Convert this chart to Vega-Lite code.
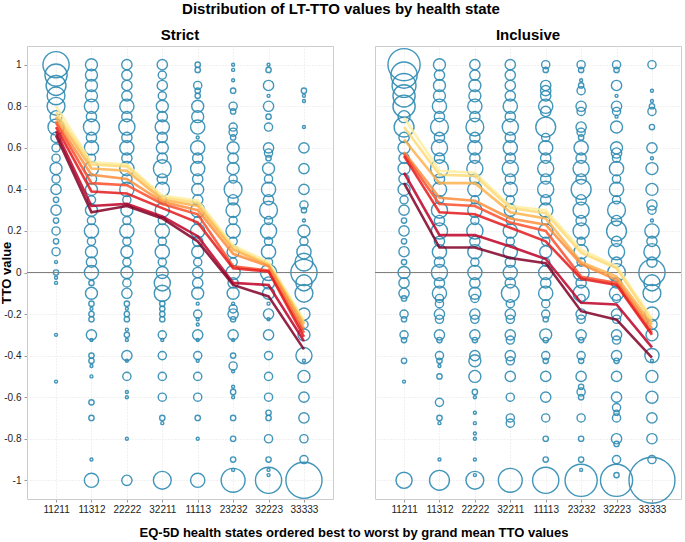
{
"$schema": "https://vega.github.io/schema/vega-lite/v6.json",
"padding": {"left": 0, "top": 2, "right": 0, "bottom": 0},
"bounds": "flush",
"title": {"text": "Distribution of LT-TTO values by health state", "fontSize": 15, "fontWeight": "bold", "font": "Liberation Sans", "anchor": "middle", "offset": 11, "color": "#000"},
"data": {"values": [
{"p":"Strict","s":"11211","v":1,"n":36},{"p":"Strict","s":"11211","v":0.95,"n":26},{"p":"Strict","s":"11211","v":0.9,"n":21},{"p":"Strict","s":"11211","v":0.85,"n":17},{"p":"Strict","s":"11211","v":0.8,"n":17},{"p":"Strict","s":"11211","v":0.75,"n":8},{"p":"Strict","s":"11211","v":0.7,"n":14},{"p":"Strict","s":"11211","v":0.65,"n":6},{"p":"Strict","s":"11211","v":0.6,"n":4},{"p":"Strict","s":"11211","v":0.55,"n":4},{"p":"Strict","s":"11211","v":0.5,"n":8},{"p":"Strict","s":"11211","v":0.45,"n":4},{"p":"Strict","s":"11211","v":0.4,"n":6},{"p":"Strict","s":"11211","v":0.35,"n":2},{"p":"Strict","s":"11211","v":0.3,"n":6},{"p":"Strict","s":"11211","v":0.25,"n":2},{"p":"Strict","s":"11211","v":0.2,"n":4},{"p":"Strict","s":"11211","v":0.15,"n":2},{"p":"Strict","s":"11211","v":0.1,"n":4},{"p":"Strict","s":"11211","v":0.05,"n":1},{"p":"Strict","s":"11211","v":0,"n":2},{"p":"Strict","s":"11211","v":-0.025,"n":1},{"p":"Strict","s":"11211","v":-0.05,"n":1},{"p":"Strict","s":"11211","v":-0.3,"n":1},{"p":"Strict","s":"11211","v":-0.525,"n":1},
{"p":"Strict","s":"11312","v":1,"n":8},{"p":"Strict","s":"11312","v":0.95,"n":8},{"p":"Strict","s":"11312","v":0.9,"n":8},{"p":"Strict","s":"11312","v":0.85,"n":8},{"p":"Strict","s":"11312","v":0.8,"n":11},{"p":"Strict","s":"11312","v":0.75,"n":6},{"p":"Strict","s":"11312","v":0.7,"n":14},{"p":"Strict","s":"11312","v":0.65,"n":6},{"p":"Strict","s":"11312","v":0.6,"n":11},{"p":"Strict","s":"11312","v":0.55,"n":4},{"p":"Strict","s":"11312","v":0.5,"n":11},{"p":"Strict","s":"11312","v":0.45,"n":6},{"p":"Strict","s":"11312","v":0.4,"n":8},{"p":"Strict","s":"11312","v":0.35,"n":4},{"p":"Strict","s":"11312","v":0.3,"n":8},{"p":"Strict","s":"11312","v":0.25,"n":4},{"p":"Strict","s":"11312","v":0.2,"n":11},{"p":"Strict","s":"11312","v":0.15,"n":4},{"p":"Strict","s":"11312","v":0.1,"n":8},{"p":"Strict","s":"11312","v":0.05,"n":6},{"p":"Strict","s":"11312","v":0,"n":11},{"p":"Strict","s":"11312","v":-0.05,"n":2},{"p":"Strict","s":"11312","v":-0.1,"n":8},{"p":"Strict","s":"11312","v":-0.15,"n":2},{"p":"Strict","s":"11312","v":-0.175,"n":1},{"p":"Strict","s":"11312","v":-0.2,"n":2},{"p":"Strict","s":"11312","v":-0.225,"n":2},{"p":"Strict","s":"11312","v":-0.3,"n":6},{"p":"Strict","s":"11312","v":-0.325,"n":1},{"p":"Strict","s":"11312","v":-0.4,"n":2},{"p":"Strict","s":"11312","v":-0.425,"n":2},{"p":"Strict","s":"11312","v":-0.45,"n":1},{"p":"Strict","s":"11312","v":-0.5,"n":1},{"p":"Strict","s":"11312","v":-0.625,"n":2},{"p":"Strict","s":"11312","v":-0.7,"n":2},{"p":"Strict","s":"11312","v":-0.9,"n":1},{"p":"Strict","s":"11312","v":-1,"n":11},
{"p":"Strict","s":"22222","v":1,"n":6},{"p":"Strict","s":"22222","v":0.95,"n":6},{"p":"Strict","s":"22222","v":0.9,"n":6},{"p":"Strict","s":"22222","v":0.85,"n":6},{"p":"Strict","s":"22222","v":0.8,"n":11},{"p":"Strict","s":"22222","v":0.75,"n":6},{"p":"Strict","s":"22222","v":0.7,"n":14},{"p":"Strict","s":"22222","v":0.65,"n":6},{"p":"Strict","s":"22222","v":0.6,"n":11},{"p":"Strict","s":"22222","v":0.55,"n":6},{"p":"Strict","s":"22222","v":0.5,"n":11},{"p":"Strict","s":"22222","v":0.45,"n":6},{"p":"Strict","s":"22222","v":0.4,"n":11},{"p":"Strict","s":"22222","v":0.35,"n":4},{"p":"Strict","s":"22222","v":0.3,"n":8},{"p":"Strict","s":"22222","v":0.25,"n":4},{"p":"Strict","s":"22222","v":0.2,"n":11},{"p":"Strict","s":"22222","v":0.15,"n":4},{"p":"Strict","s":"22222","v":0.1,"n":8},{"p":"Strict","s":"22222","v":0.05,"n":4},{"p":"Strict","s":"22222","v":0,"n":8},{"p":"Strict","s":"22222","v":-0.05,"n":4},{"p":"Strict","s":"22222","v":-0.1,"n":6},{"p":"Strict","s":"22222","v":-0.15,"n":2},{"p":"Strict","s":"22222","v":-0.175,"n":1},{"p":"Strict","s":"22222","v":-0.2,"n":2},{"p":"Strict","s":"22222","v":-0.225,"n":2},{"p":"Strict","s":"22222","v":-0.275,"n":1},{"p":"Strict","s":"22222","v":-0.3,"n":2},{"p":"Strict","s":"22222","v":-0.325,"n":1},{"p":"Strict","s":"22222","v":-0.4,"n":6},{"p":"Strict","s":"22222","v":-0.425,"n":1},{"p":"Strict","s":"22222","v":-0.5,"n":4},{"p":"Strict","s":"22222","v":-0.575,"n":1},{"p":"Strict","s":"22222","v":-0.6,"n":1},{"p":"Strict","s":"22222","v":-0.8,"n":1},{"p":"Strict","s":"22222","v":-1,"n":6},
{"p":"Strict","s":"32211","v":1,"n":6},{"p":"Strict","s":"32211","v":0.95,"n":4},{"p":"Strict","s":"32211","v":0.9,"n":6},{"p":"Strict","s":"32211","v":0.85,"n":4},{"p":"Strict","s":"32211","v":0.8,"n":8},{"p":"Strict","s":"32211","v":0.75,"n":6},{"p":"Strict","s":"32211","v":0.7,"n":11},{"p":"Strict","s":"32211","v":0.65,"n":6},{"p":"Strict","s":"32211","v":0.6,"n":8},{"p":"Strict","s":"32211","v":0.55,"n":6},{"p":"Strict","s":"32211","v":0.5,"n":17},{"p":"Strict","s":"32211","v":0.45,"n":6},{"p":"Strict","s":"32211","v":0.4,"n":11},{"p":"Strict","s":"32211","v":0.35,"n":4},{"p":"Strict","s":"32211","v":0.3,"n":11},{"p":"Strict","s":"32211","v":0.25,"n":4},{"p":"Strict","s":"32211","v":0.2,"n":11},{"p":"Strict","s":"32211","v":0.15,"n":4},{"p":"Strict","s":"32211","v":0.1,"n":11},{"p":"Strict","s":"32211","v":0.05,"n":4},{"p":"Strict","s":"32211","v":0,"n":8},{"p":"Strict","s":"32211","v":-0.05,"n":14},{"p":"Strict","s":"32211","v":-0.1,"n":14},{"p":"Strict","s":"32211","v":-0.15,"n":2},{"p":"Strict","s":"32211","v":-0.175,"n":2},{"p":"Strict","s":"32211","v":-0.2,"n":2},{"p":"Strict","s":"32211","v":-0.225,"n":2},{"p":"Strict","s":"32211","v":-0.3,"n":4},{"p":"Strict","s":"32211","v":-0.325,"n":1},{"p":"Strict","s":"32211","v":-0.4,"n":4},{"p":"Strict","s":"32211","v":-0.5,"n":4},{"p":"Strict","s":"32211","v":-0.6,"n":4},{"p":"Strict","s":"32211","v":-0.7,"n":2},{"p":"Strict","s":"32211","v":-0.725,"n":1},{"p":"Strict","s":"32211","v":-1,"n":17},
{"p":"Strict","s":"11113","v":1,"n":2},{"p":"Strict","s":"11113","v":0.975,"n":2},{"p":"Strict","s":"11113","v":0.9,"n":4},{"p":"Strict","s":"11113","v":0.875,"n":2},{"p":"Strict","s":"11113","v":0.85,"n":2},{"p":"Strict","s":"11113","v":0.8,"n":8},{"p":"Strict","s":"11113","v":0.75,"n":8},{"p":"Strict","s":"11113","v":0.7,"n":11},{"p":"Strict","s":"11113","v":0.65,"n":1},{"p":"Strict","s":"11113","v":0.6,"n":11},{"p":"Strict","s":"11113","v":0.55,"n":6},{"p":"Strict","s":"11113","v":0.5,"n":11},{"p":"Strict","s":"11113","v":0.45,"n":6},{"p":"Strict","s":"11113","v":0.4,"n":8},{"p":"Strict","s":"11113","v":0.35,"n":6},{"p":"Strict","s":"11113","v":0.3,"n":11},{"p":"Strict","s":"11113","v":0.25,"n":4},{"p":"Strict","s":"11113","v":0.2,"n":11},{"p":"Strict","s":"11113","v":0.15,"n":6},{"p":"Strict","s":"11113","v":0.1,"n":8},{"p":"Strict","s":"11113","v":0.05,"n":4},{"p":"Strict","s":"11113","v":0,"n":6},{"p":"Strict","s":"11113","v":-0.05,"n":6},{"p":"Strict","s":"11113","v":-0.1,"n":8},{"p":"Strict","s":"11113","v":-0.15,"n":1},{"p":"Strict","s":"11113","v":-0.2,"n":4},{"p":"Strict","s":"11113","v":-0.225,"n":1},{"p":"Strict","s":"11113","v":-0.25,"n":1},{"p":"Strict","s":"11113","v":-0.3,"n":6},{"p":"Strict","s":"11113","v":-0.325,"n":1},{"p":"Strict","s":"11113","v":-0.4,"n":4},{"p":"Strict","s":"11113","v":-0.425,"n":1},{"p":"Strict","s":"11113","v":-0.5,"n":4},{"p":"Strict","s":"11113","v":-0.6,"n":4},{"p":"Strict","s":"11113","v":-0.7,"n":2},{"p":"Strict","s":"11113","v":-0.8,"n":1},{"p":"Strict","s":"11113","v":-1,"n":11},
{"p":"Strict","s":"23232","v":1,"n":1},{"p":"Strict","s":"23232","v":0.975,"n":1},{"p":"Strict","s":"23232","v":0.925,"n":1},{"p":"Strict","s":"23232","v":0.875,"n":2},{"p":"Strict","s":"23232","v":0.8,"n":4},{"p":"Strict","s":"23232","v":0.775,"n":2},{"p":"Strict","s":"23232","v":0.7,"n":4},{"p":"Strict","s":"23232","v":0.675,"n":4},{"p":"Strict","s":"23232","v":0.65,"n":2},{"p":"Strict","s":"23232","v":0.6,"n":8},{"p":"Strict","s":"23232","v":0.55,"n":6},{"p":"Strict","s":"23232","v":0.5,"n":8},{"p":"Strict","s":"23232","v":0.45,"n":4},{"p":"Strict","s":"23232","v":0.4,"n":17},{"p":"Strict","s":"23232","v":0.35,"n":6},{"p":"Strict","s":"23232","v":0.3,"n":11},{"p":"Strict","s":"23232","v":0.25,"n":4},{"p":"Strict","s":"23232","v":0.2,"n":11},{"p":"Strict","s":"23232","v":0.15,"n":4},{"p":"Strict","s":"23232","v":0.1,"n":8},{"p":"Strict","s":"23232","v":0.05,"n":4},{"p":"Strict","s":"23232","v":0,"n":11},{"p":"Strict","s":"23232","v":-0.05,"n":6},{"p":"Strict","s":"23232","v":-0.1,"n":8},{"p":"Strict","s":"23232","v":-0.15,"n":1},{"p":"Strict","s":"23232","v":-0.175,"n":4},{"p":"Strict","s":"23232","v":-0.2,"n":6},{"p":"Strict","s":"23232","v":-0.225,"n":2},{"p":"Strict","s":"23232","v":-0.3,"n":6},{"p":"Strict","s":"23232","v":-0.325,"n":1},{"p":"Strict","s":"23232","v":-0.4,"n":2},{"p":"Strict","s":"23232","v":-0.45,"n":4},{"p":"Strict","s":"23232","v":-0.475,"n":1},{"p":"Strict","s":"23232","v":-0.55,"n":1},{"p":"Strict","s":"23232","v":-0.575,"n":2},{"p":"Strict","s":"23232","v":-0.6,"n":1},{"p":"Strict","s":"23232","v":-0.7,"n":2},{"p":"Strict","s":"23232","v":-0.8,"n":2},{"p":"Strict","s":"23232","v":-0.9,"n":2},{"p":"Strict","s":"23232","v":-0.95,"n":1},{"p":"Strict","s":"23232","v":-1,"n":30},
{"p":"Strict","s":"32223","v":1,"n":1},{"p":"Strict","s":"32223","v":0.975,"n":2},{"p":"Strict","s":"32223","v":0.9,"n":6},{"p":"Strict","s":"32223","v":0.85,"n":1},{"p":"Strict","s":"32223","v":0.8,"n":6},{"p":"Strict","s":"32223","v":0.75,"n":2},{"p":"Strict","s":"32223","v":0.7,"n":4},{"p":"Strict","s":"32223","v":0.6,"n":6},{"p":"Strict","s":"32223","v":0.575,"n":4},{"p":"Strict","s":"32223","v":0.55,"n":2},{"p":"Strict","s":"32223","v":0.5,"n":8},{"p":"Strict","s":"32223","v":0.45,"n":4},{"p":"Strict","s":"32223","v":0.4,"n":11},{"p":"Strict","s":"32223","v":0.35,"n":6},{"p":"Strict","s":"32223","v":0.3,"n":17},{"p":"Strict","s":"32223","v":0.25,"n":4},{"p":"Strict","s":"32223","v":0.2,"n":14},{"p":"Strict","s":"32223","v":0.15,"n":4},{"p":"Strict","s":"32223","v":0.1,"n":11},{"p":"Strict","s":"32223","v":0.05,"n":4},{"p":"Strict","s":"32223","v":0,"n":14},{"p":"Strict","s":"32223","v":-0.05,"n":8},{"p":"Strict","s":"32223","v":-0.1,"n":8},{"p":"Strict","s":"32223","v":-0.15,"n":1},{"p":"Strict","s":"32223","v":-0.2,"n":6},{"p":"Strict","s":"32223","v":-0.225,"n":1},{"p":"Strict","s":"32223","v":-0.3,"n":6},{"p":"Strict","s":"32223","v":-0.4,"n":4},{"p":"Strict","s":"32223","v":-0.5,"n":4},{"p":"Strict","s":"32223","v":-0.6,"n":4},{"p":"Strict","s":"32223","v":-0.675,"n":2},{"p":"Strict","s":"32223","v":-0.7,"n":2},{"p":"Strict","s":"32223","v":-0.8,"n":4},{"p":"Strict","s":"32223","v":-0.9,"n":2},{"p":"Strict","s":"32223","v":-0.95,"n":1},{"p":"Strict","s":"32223","v":-0.975,"n":1},{"p":"Strict","s":"32223","v":-1,"n":36},
{"p":"Strict","s":"33333","v":0.875,"n":2},{"p":"Strict","s":"33333","v":0.85,"n":1},{"p":"Strict","s":"33333","v":0.825,"n":1},{"p":"Strict","s":"33333","v":0.7,"n":1},{"p":"Strict","s":"33333","v":0.6,"n":6},{"p":"Strict","s":"33333","v":0.5,"n":6},{"p":"Strict","s":"33333","v":0.4,"n":6},{"p":"Strict","s":"33333","v":0.325,"n":4},{"p":"Strict","s":"33333","v":0.3,"n":2},{"p":"Strict","s":"33333","v":0.25,"n":1},{"p":"Strict","s":"33333","v":0.2,"n":8},{"p":"Strict","s":"33333","v":0.15,"n":4},{"p":"Strict","s":"33333","v":0.1,"n":11},{"p":"Strict","s":"33333","v":0.05,"n":17},{"p":"Strict","s":"33333","v":0,"n":36},{"p":"Strict","s":"33333","v":-0.05,"n":14},{"p":"Strict","s":"33333","v":-0.1,"n":17},{"p":"Strict","s":"33333","v":-0.2,"n":8},{"p":"Strict","s":"33333","v":-0.25,"n":4},{"p":"Strict","s":"33333","v":-0.3,"n":8},{"p":"Strict","s":"33333","v":-0.4,"n":14},{"p":"Strict","s":"33333","v":-0.425,"n":1},{"p":"Strict","s":"33333","v":-0.5,"n":8},{"p":"Strict","s":"33333","v":-0.6,"n":6},{"p":"Strict","s":"33333","v":-0.7,"n":6},{"p":"Strict","s":"33333","v":-0.8,"n":4},{"p":"Strict","s":"33333","v":-0.9,"n":4},{"p":"Strict","s":"33333","v":-1,"n":68},
{"p":"Inclusive","s":"11211","v":1,"n":54},{"p":"Inclusive","s":"11211","v":0.95,"n":36},{"p":"Inclusive","s":"11211","v":0.9,"n":30},{"p":"Inclusive","s":"11211","v":0.85,"n":26},{"p":"Inclusive","s":"11211","v":0.8,"n":26},{"p":"Inclusive","s":"11211","v":0.75,"n":8},{"p":"Inclusive","s":"11211","v":0.7,"n":21},{"p":"Inclusive","s":"11211","v":0.65,"n":6},{"p":"Inclusive","s":"11211","v":0.6,"n":8},{"p":"Inclusive","s":"11211","v":0.55,"n":6},{"p":"Inclusive","s":"11211","v":0.5,"n":8},{"p":"Inclusive","s":"11211","v":0.45,"n":6},{"p":"Inclusive","s":"11211","v":0.4,"n":8},{"p":"Inclusive","s":"11211","v":0.35,"n":4},{"p":"Inclusive","s":"11211","v":0.3,"n":6},{"p":"Inclusive","s":"11211","v":0.25,"n":2},{"p":"Inclusive","s":"11211","v":0.2,"n":6},{"p":"Inclusive","s":"11211","v":0.15,"n":2},{"p":"Inclusive","s":"11211","v":0.1,"n":6},{"p":"Inclusive","s":"11211","v":0.05,"n":2},{"p":"Inclusive","s":"11211","v":0,"n":8},{"p":"Inclusive","s":"11211","v":-0.05,"n":6},{"p":"Inclusive","s":"11211","v":-0.1,"n":6},{"p":"Inclusive","s":"11211","v":-0.125,"n":2},{"p":"Inclusive","s":"11211","v":-0.2,"n":4},{"p":"Inclusive","s":"11211","v":-0.225,"n":2},{"p":"Inclusive","s":"11211","v":-0.3,"n":4},{"p":"Inclusive","s":"11211","v":-0.325,"n":2},{"p":"Inclusive","s":"11211","v":-0.425,"n":2},{"p":"Inclusive","s":"11211","v":-0.525,"n":1},{"p":"Inclusive","s":"11211","v":-1,"n":14},
{"p":"Inclusive","s":"11312","v":1,"n":8},{"p":"Inclusive","s":"11312","v":0.95,"n":6},{"p":"Inclusive","s":"11312","v":0.9,"n":8},{"p":"Inclusive","s":"11312","v":0.85,"n":8},{"p":"Inclusive","s":"11312","v":0.8,"n":11},{"p":"Inclusive","s":"11312","v":0.75,"n":6},{"p":"Inclusive","s":"11312","v":0.7,"n":17},{"p":"Inclusive","s":"11312","v":0.65,"n":6},{"p":"Inclusive","s":"11312","v":0.6,"n":14},{"p":"Inclusive","s":"11312","v":0.55,"n":6},{"p":"Inclusive","s":"11312","v":0.5,"n":17},{"p":"Inclusive","s":"11312","v":0.45,"n":6},{"p":"Inclusive","s":"11312","v":0.4,"n":11},{"p":"Inclusive","s":"11312","v":0.35,"n":4},{"p":"Inclusive","s":"11312","v":0.3,"n":14},{"p":"Inclusive","s":"11312","v":0.25,"n":6},{"p":"Inclusive","s":"11312","v":0.2,"n":14},{"p":"Inclusive","s":"11312","v":0.15,"n":6},{"p":"Inclusive","s":"11312","v":0.1,"n":11},{"p":"Inclusive","s":"11312","v":0.05,"n":6},{"p":"Inclusive","s":"11312","v":0,"n":14},{"p":"Inclusive","s":"11312","v":-0.05,"n":6},{"p":"Inclusive","s":"11312","v":-0.1,"n":11},{"p":"Inclusive","s":"11312","v":-0.125,"n":4},{"p":"Inclusive","s":"11312","v":-0.15,"n":4},{"p":"Inclusive","s":"11312","v":-0.2,"n":6},{"p":"Inclusive","s":"11312","v":-0.225,"n":4},{"p":"Inclusive","s":"11312","v":-0.3,"n":6},{"p":"Inclusive","s":"11312","v":-0.325,"n":2},{"p":"Inclusive","s":"11312","v":-0.4,"n":4},{"p":"Inclusive","s":"11312","v":-0.425,"n":2},{"p":"Inclusive","s":"11312","v":-0.45,"n":1},{"p":"Inclusive","s":"11312","v":-0.5,"n":2},{"p":"Inclusive","s":"11312","v":-0.625,"n":4},{"p":"Inclusive","s":"11312","v":-0.7,"n":2},{"p":"Inclusive","s":"11312","v":-0.725,"n":1},{"p":"Inclusive","s":"11312","v":-0.9,"n":1},{"p":"Inclusive","s":"11312","v":-1,"n":21},
{"p":"Inclusive","s":"22222","v":1,"n":6},{"p":"Inclusive","s":"22222","v":0.95,"n":6},{"p":"Inclusive","s":"22222","v":0.9,"n":8},{"p":"Inclusive","s":"22222","v":0.85,"n":8},{"p":"Inclusive","s":"22222","v":0.8,"n":11},{"p":"Inclusive","s":"22222","v":0.75,"n":6},{"p":"Inclusive","s":"22222","v":0.7,"n":17},{"p":"Inclusive","s":"22222","v":0.65,"n":6},{"p":"Inclusive","s":"22222","v":0.6,"n":11},{"p":"Inclusive","s":"22222","v":0.55,"n":6},{"p":"Inclusive","s":"22222","v":0.5,"n":14},{"p":"Inclusive","s":"22222","v":0.45,"n":6},{"p":"Inclusive","s":"22222","v":0.4,"n":11},{"p":"Inclusive","s":"22222","v":0.35,"n":4},{"p":"Inclusive","s":"22222","v":0.3,"n":11},{"p":"Inclusive","s":"22222","v":0.25,"n":4},{"p":"Inclusive","s":"22222","v":0.2,"n":14},{"p":"Inclusive","s":"22222","v":0.15,"n":6},{"p":"Inclusive","s":"22222","v":0.1,"n":11},{"p":"Inclusive","s":"22222","v":0.05,"n":4},{"p":"Inclusive","s":"22222","v":0,"n":11},{"p":"Inclusive","s":"22222","v":-0.05,"n":6},{"p":"Inclusive","s":"22222","v":-0.1,"n":8},{"p":"Inclusive","s":"22222","v":-0.125,"n":4},{"p":"Inclusive","s":"22222","v":-0.2,"n":6},{"p":"Inclusive","s":"22222","v":-0.225,"n":4},{"p":"Inclusive","s":"22222","v":-0.3,"n":6},{"p":"Inclusive","s":"22222","v":-0.325,"n":2},{"p":"Inclusive","s":"22222","v":-0.4,"n":6},{"p":"Inclusive","s":"22222","v":-0.425,"n":8},{"p":"Inclusive","s":"22222","v":-0.5,"n":8},{"p":"Inclusive","s":"22222","v":-0.575,"n":2},{"p":"Inclusive","s":"22222","v":-0.6,"n":1},{"p":"Inclusive","s":"22222","v":-0.675,"n":1},{"p":"Inclusive","s":"22222","v":-0.725,"n":1},{"p":"Inclusive","s":"22222","v":-0.775,"n":1},{"p":"Inclusive","s":"22222","v":-0.8,"n":1},{"p":"Inclusive","s":"22222","v":-0.9,"n":1},{"p":"Inclusive","s":"22222","v":-0.975,"n":1},{"p":"Inclusive","s":"22222","v":-1,"n":17},
{"p":"Inclusive","s":"32211","v":1,"n":6},{"p":"Inclusive","s":"32211","v":0.95,"n":6},{"p":"Inclusive","s":"32211","v":0.9,"n":6},{"p":"Inclusive","s":"32211","v":0.85,"n":6},{"p":"Inclusive","s":"32211","v":0.8,"n":11},{"p":"Inclusive","s":"32211","v":0.75,"n":6},{"p":"Inclusive","s":"32211","v":0.7,"n":14},{"p":"Inclusive","s":"32211","v":0.65,"n":6},{"p":"Inclusive","s":"32211","v":0.6,"n":11},{"p":"Inclusive","s":"32211","v":0.55,"n":6},{"p":"Inclusive","s":"32211","v":0.5,"n":14},{"p":"Inclusive","s":"32211","v":0.45,"n":6},{"p":"Inclusive","s":"32211","v":0.4,"n":11},{"p":"Inclusive","s":"32211","v":0.35,"n":4},{"p":"Inclusive","s":"32211","v":0.3,"n":8},{"p":"Inclusive","s":"32211","v":0.25,"n":4},{"p":"Inclusive","s":"32211","v":0.2,"n":11},{"p":"Inclusive","s":"32211","v":0.15,"n":4},{"p":"Inclusive","s":"32211","v":0.1,"n":11},{"p":"Inclusive","s":"32211","v":0.05,"n":6},{"p":"Inclusive","s":"32211","v":0,"n":11},{"p":"Inclusive","s":"32211","v":-0.05,"n":6},{"p":"Inclusive","s":"32211","v":-0.1,"n":17},{"p":"Inclusive","s":"32211","v":-0.15,"n":4},{"p":"Inclusive","s":"32211","v":-0.2,"n":6},{"p":"Inclusive","s":"32211","v":-0.225,"n":4},{"p":"Inclusive","s":"32211","v":-0.3,"n":6},{"p":"Inclusive","s":"32211","v":-0.325,"n":4},{"p":"Inclusive","s":"32211","v":-0.4,"n":6},{"p":"Inclusive","s":"32211","v":-0.425,"n":4},{"p":"Inclusive","s":"32211","v":-0.5,"n":6},{"p":"Inclusive","s":"32211","v":-0.6,"n":4},{"p":"Inclusive","s":"32211","v":-0.7,"n":4},{"p":"Inclusive","s":"32211","v":-0.725,"n":4},{"p":"Inclusive","s":"32211","v":-1,"n":30},
{"p":"Inclusive","s":"11113","v":1,"n":4},{"p":"Inclusive","s":"11113","v":0.975,"n":2},{"p":"Inclusive","s":"11113","v":0.9,"n":6},{"p":"Inclusive","s":"11113","v":0.875,"n":6},{"p":"Inclusive","s":"11113","v":0.85,"n":6},{"p":"Inclusive","s":"11113","v":0.8,"n":11},{"p":"Inclusive","s":"11113","v":0.775,"n":6},{"p":"Inclusive","s":"11113","v":0.7,"n":21},{"p":"Inclusive","s":"11113","v":0.65,"n":4},{"p":"Inclusive","s":"11113","v":0.6,"n":11},{"p":"Inclusive","s":"11113","v":0.55,"n":6},{"p":"Inclusive","s":"11113","v":0.5,"n":14},{"p":"Inclusive","s":"11113","v":0.45,"n":6},{"p":"Inclusive","s":"11113","v":0.4,"n":14},{"p":"Inclusive","s":"11113","v":0.35,"n":6},{"p":"Inclusive","s":"11113","v":0.3,"n":11},{"p":"Inclusive","s":"11113","v":0.25,"n":4},{"p":"Inclusive","s":"11113","v":0.2,"n":11},{"p":"Inclusive","s":"11113","v":0.15,"n":4},{"p":"Inclusive","s":"11113","v":0.1,"n":8},{"p":"Inclusive","s":"11113","v":0.05,"n":4},{"p":"Inclusive","s":"11113","v":0,"n":11},{"p":"Inclusive","s":"11113","v":-0.05,"n":6},{"p":"Inclusive","s":"11113","v":-0.1,"n":11},{"p":"Inclusive","s":"11113","v":-0.15,"n":4},{"p":"Inclusive","s":"11113","v":-0.2,"n":4},{"p":"Inclusive","s":"11113","v":-0.225,"n":2},{"p":"Inclusive","s":"11113","v":-0.3,"n":8},{"p":"Inclusive","s":"11113","v":-0.325,"n":2},{"p":"Inclusive","s":"11113","v":-0.4,"n":4},{"p":"Inclusive","s":"11113","v":-0.425,"n":2},{"p":"Inclusive","s":"11113","v":-0.5,"n":6},{"p":"Inclusive","s":"11113","v":-0.6,"n":6},{"p":"Inclusive","s":"11113","v":-0.7,"n":4},{"p":"Inclusive","s":"11113","v":-0.8,"n":2},{"p":"Inclusive","s":"11113","v":-0.9,"n":2},{"p":"Inclusive","s":"11113","v":-1,"n":36},
{"p":"Inclusive","s":"23232","v":1,"n":4},{"p":"Inclusive","s":"23232","v":0.975,"n":2},{"p":"Inclusive","s":"23232","v":0.925,"n":1},{"p":"Inclusive","s":"23232","v":0.9,"n":2},{"p":"Inclusive","s":"23232","v":0.875,"n":4},{"p":"Inclusive","s":"23232","v":0.8,"n":6},{"p":"Inclusive","s":"23232","v":0.775,"n":4},{"p":"Inclusive","s":"23232","v":0.7,"n":6},{"p":"Inclusive","s":"23232","v":0.675,"n":4},{"p":"Inclusive","s":"23232","v":0.65,"n":2},{"p":"Inclusive","s":"23232","v":0.6,"n":11},{"p":"Inclusive","s":"23232","v":0.55,"n":6},{"p":"Inclusive","s":"23232","v":0.5,"n":14},{"p":"Inclusive","s":"23232","v":0.45,"n":6},{"p":"Inclusive","s":"23232","v":0.4,"n":21},{"p":"Inclusive","s":"23232","v":0.35,"n":6},{"p":"Inclusive","s":"23232","v":0.3,"n":14},{"p":"Inclusive","s":"23232","v":0.25,"n":6},{"p":"Inclusive","s":"23232","v":0.2,"n":14},{"p":"Inclusive","s":"23232","v":0.15,"n":4},{"p":"Inclusive","s":"23232","v":0.1,"n":11},{"p":"Inclusive","s":"23232","v":0.05,"n":4},{"p":"Inclusive","s":"23232","v":0,"n":14},{"p":"Inclusive","s":"23232","v":-0.05,"n":6},{"p":"Inclusive","s":"23232","v":-0.1,"n":14},{"p":"Inclusive","s":"23232","v":-0.125,"n":4},{"p":"Inclusive","s":"23232","v":-0.2,"n":6},{"p":"Inclusive","s":"23232","v":-0.225,"n":4},{"p":"Inclusive","s":"23232","v":-0.3,"n":6},{"p":"Inclusive","s":"23232","v":-0.325,"n":2},{"p":"Inclusive","s":"23232","v":-0.4,"n":4},{"p":"Inclusive","s":"23232","v":-0.425,"n":2},{"p":"Inclusive","s":"23232","v":-0.5,"n":6},{"p":"Inclusive","s":"23232","v":-0.55,"n":2},{"p":"Inclusive","s":"23232","v":-0.575,"n":4},{"p":"Inclusive","s":"23232","v":-0.6,"n":2},{"p":"Inclusive","s":"23232","v":-0.7,"n":4},{"p":"Inclusive","s":"23232","v":-0.8,"n":2},{"p":"Inclusive","s":"23232","v":-0.9,"n":2},{"p":"Inclusive","s":"23232","v":-0.95,"n":1},{"p":"Inclusive","s":"23232","v":-1,"n":54},
{"p":"Inclusive","s":"32223","v":1,"n":4},{"p":"Inclusive","s":"32223","v":0.975,"n":2},{"p":"Inclusive","s":"32223","v":0.9,"n":6},{"p":"Inclusive","s":"32223","v":0.85,"n":1},{"p":"Inclusive","s":"32223","v":0.8,"n":6},{"p":"Inclusive","s":"32223","v":0.775,"n":4},{"p":"Inclusive","s":"32223","v":0.75,"n":1},{"p":"Inclusive","s":"32223","v":0.7,"n":8},{"p":"Inclusive","s":"32223","v":0.6,"n":8},{"p":"Inclusive","s":"32223","v":0.575,"n":6},{"p":"Inclusive","s":"32223","v":0.55,"n":4},{"p":"Inclusive","s":"32223","v":0.5,"n":11},{"p":"Inclusive","s":"32223","v":0.45,"n":4},{"p":"Inclusive","s":"32223","v":0.4,"n":11},{"p":"Inclusive","s":"32223","v":0.35,"n":4},{"p":"Inclusive","s":"32223","v":0.3,"n":17},{"p":"Inclusive","s":"32223","v":0.25,"n":6},{"p":"Inclusive","s":"32223","v":0.2,"n":21},{"p":"Inclusive","s":"32223","v":0.15,"n":6},{"p":"Inclusive","s":"32223","v":0.1,"n":14},{"p":"Inclusive","s":"32223","v":0.05,"n":6},{"p":"Inclusive","s":"32223","v":0,"n":17},{"p":"Inclusive","s":"32223","v":-0.05,"n":6},{"p":"Inclusive","s":"32223","v":-0.1,"n":11},{"p":"Inclusive","s":"32223","v":-0.125,"n":4},{"p":"Inclusive","s":"32223","v":-0.2,"n":6},{"p":"Inclusive","s":"32223","v":-0.225,"n":4},{"p":"Inclusive","s":"32223","v":-0.3,"n":6},{"p":"Inclusive","s":"32223","v":-0.325,"n":4},{"p":"Inclusive","s":"32223","v":-0.4,"n":6},{"p":"Inclusive","s":"32223","v":-0.425,"n":2},{"p":"Inclusive","s":"32223","v":-0.5,"n":6},{"p":"Inclusive","s":"32223","v":-0.6,"n":6},{"p":"Inclusive","s":"32223","v":-0.65,"n":4},{"p":"Inclusive","s":"32223","v":-0.675,"n":2},{"p":"Inclusive","s":"32223","v":-0.7,"n":4},{"p":"Inclusive","s":"32223","v":-0.8,"n":6},{"p":"Inclusive","s":"32223","v":-0.825,"n":2},{"p":"Inclusive","s":"32223","v":-0.9,"n":4},{"p":"Inclusive","s":"32223","v":-0.975,"n":2},{"p":"Inclusive","s":"32223","v":-1,"n":54},
{"p":"Inclusive","s":"33333","v":1,"n":4},{"p":"Inclusive","s":"33333","v":0.875,"n":1},{"p":"Inclusive","s":"33333","v":0.825,"n":1},{"p":"Inclusive","s":"33333","v":0.8,"n":2},{"p":"Inclusive","s":"33333","v":0.775,"n":4},{"p":"Inclusive","s":"33333","v":0.7,"n":2},{"p":"Inclusive","s":"33333","v":0.6,"n":6},{"p":"Inclusive","s":"33333","v":0.55,"n":1},{"p":"Inclusive","s":"33333","v":0.5,"n":8},{"p":"Inclusive","s":"33333","v":0.4,"n":8},{"p":"Inclusive","s":"33333","v":0.325,"n":6},{"p":"Inclusive","s":"33333","v":0.3,"n":4},{"p":"Inclusive","s":"33333","v":0.25,"n":1},{"p":"Inclusive","s":"33333","v":0.2,"n":11},{"p":"Inclusive","s":"33333","v":0.15,"n":6},{"p":"Inclusive","s":"33333","v":0.1,"n":14},{"p":"Inclusive","s":"33333","v":0.05,"n":6},{"p":"Inclusive","s":"33333","v":0,"n":36},{"p":"Inclusive","s":"33333","v":-0.05,"n":14},{"p":"Inclusive","s":"33333","v":-0.1,"n":17},{"p":"Inclusive","s":"33333","v":-0.2,"n":11},{"p":"Inclusive","s":"33333","v":-0.25,"n":6},{"p":"Inclusive","s":"33333","v":-0.3,"n":8},{"p":"Inclusive","s":"33333","v":-0.4,"n":11},{"p":"Inclusive","s":"33333","v":-0.425,"n":1},{"p":"Inclusive","s":"33333","v":-0.5,"n":8},{"p":"Inclusive","s":"33333","v":-0.6,"n":8},{"p":"Inclusive","s":"33333","v":-0.7,"n":6},{"p":"Inclusive","s":"33333","v":-0.8,"n":6},{"p":"Inclusive","s":"33333","v":-0.9,"n":4},{"p":"Inclusive","s":"33333","v":-1,"n":110},
{"p":"Strict","g":"g1","s":"11211","m":0.80},{"p":"Strict","g":"g1","s":"11312","m":0.53},{"p":"Strict","g":"g1","s":"22222","m":0.52},{"p":"Strict","g":"g1","s":"32211","m":0.37},{"p":"Strict","g":"g1","s":"11113","m":0.345},{"p":"Strict","g":"g1","s":"23232","m":0.13},{"p":"Strict","g":"g1","s":"32223","m":0.05},{"p":"Strict","g":"g1","s":"33333","m":-0.23},
{"p":"Strict","g":"g2","s":"11211","m":0.77},{"p":"Strict","g":"g2","s":"11312","m":0.52},{"p":"Strict","g":"g2","s":"22222","m":0.51},{"p":"Strict","g":"g2","s":"32211","m":0.36},{"p":"Strict","g":"g2","s":"11113","m":0.335},{"p":"Strict","g":"g2","s":"23232","m":0.12},{"p":"Strict","g":"g2","s":"32223","m":0.04},{"p":"Strict","g":"g2","s":"33333","m":-0.24},
{"p":"Strict","g":"g3","s":"11211","m":0.75},{"p":"Strict","g":"g3","s":"11312","m":0.50},{"p":"Strict","g":"g3","s":"22222","m":0.49},{"p":"Strict","g":"g3","s":"32211","m":0.35},{"p":"Strict","g":"g3","s":"11113","m":0.32},{"p":"Strict","g":"g3","s":"23232","m":0.11},{"p":"Strict","g":"g3","s":"32223","m":0.035},{"p":"Strict","g":"g3","s":"33333","m":-0.25},
{"p":"Strict","g":"g4","s":"11211","m":0.73},{"p":"Strict","g":"g4","s":"11312","m":0.47},{"p":"Strict","g":"g4","s":"22222","m":0.45},{"p":"Strict","g":"g4","s":"32211","m":0.34},{"p":"Strict","g":"g4","s":"11113","m":0.30},{"p":"Strict","g":"g4","s":"23232","m":0.09},{"p":"Strict","g":"g4","s":"32223","m":0.03},{"p":"Strict","g":"g4","s":"33333","m":-0.27},
{"p":"Strict","g":"g5","s":"11211","m":0.72},{"p":"Strict","g":"g5","s":"11312","m":0.43},{"p":"Strict","g":"g5","s":"22222","m":0.42},{"p":"Strict","g":"g5","s":"32211","m":0.33},{"p":"Strict","g":"g5","s":"11113","m":0.28},{"p":"Strict","g":"g5","s":"23232","m":0.03},{"p":"Strict","g":"g5","s":"32223","m":0.01},{"p":"Strict","g":"g5","s":"33333","m":-0.29},
{"p":"Strict","g":"g6","s":"11211","m":0.70},{"p":"Strict","g":"g6","s":"11312","m":0.39},{"p":"Strict","g":"g6","s":"22222","m":0.38},{"p":"Strict","g":"g6","s":"32211","m":0.31},{"p":"Strict","g":"g6","s":"11113","m":0.24},{"p":"Strict","g":"g6","s":"23232","m":0.02},{"p":"Strict","g":"g6","s":"32223","m":0.005},{"p":"Strict","g":"g6","s":"33333","m":-0.31},
{"p":"Strict","g":"g7","s":"11211","m":0.68},{"p":"Strict","g":"g7","s":"11312","m":0.32},{"p":"Strict","g":"g7","s":"22222","m":0.33},{"p":"Strict","g":"g7","s":"32211","m":0.27},{"p":"Strict","g":"g7","s":"11113","m":0.175},{"p":"Strict","g":"g7","s":"23232","m":-0.05},{"p":"Strict","g":"g7","s":"32223","m":-0.06},{"p":"Strict","g":"g7","s":"33333","m":-0.33},
{"p":"Strict","g":"g8","s":"11211","m":0.66},{"p":"Strict","g":"g8","s":"11312","m":0.29},{"p":"Strict","g":"g8","s":"22222","m":0.32},{"p":"Strict","g":"g8","s":"32211","m":0.26},{"p":"Strict","g":"g8","s":"11113","m":0.15},{"p":"Strict","g":"g8","s":"23232","m":-0.06},{"p":"Strict","g":"g8","s":"32223","m":-0.115},{"p":"Strict","g":"g8","s":"33333","m":-0.37},
{"p":"Inclusive","g":"g1","s":"11211","m":0.745},{"p":"Inclusive","g":"g1","s":"11312","m":0.49},{"p":"Inclusive","g":"g1","s":"22222","m":0.48},{"p":"Inclusive","g":"g1","s":"32211","m":0.32},{"p":"Inclusive","g":"g1","s":"11113","m":0.30},{"p":"Inclusive","g":"g1","s":"23232","m":0.11},{"p":"Inclusive","g":"g1","s":"32223","m":0.03},{"p":"Inclusive","g":"g1","s":"33333","m":-0.22},
{"p":"Inclusive","g":"g2","s":"11211","m":0.70},{"p":"Inclusive","g":"g2","s":"11312","m":0.47},{"p":"Inclusive","g":"g2","s":"22222","m":0.465},{"p":"Inclusive","g":"g2","s":"32211","m":0.31},{"p":"Inclusive","g":"g2","s":"11113","m":0.285},{"p":"Inclusive","g":"g2","s":"23232","m":0.095},{"p":"Inclusive","g":"g2","s":"32223","m":0.02},{"p":"Inclusive","g":"g2","s":"33333","m":-0.235},
{"p":"Inclusive","g":"g3","s":"11211","m":0.64},{"p":"Inclusive","g":"g3","s":"11312","m":0.43},{"p":"Inclusive","g":"g3","s":"22222","m":0.43},{"p":"Inclusive","g":"g3","s":"32211","m":0.29},{"p":"Inclusive","g":"g3","s":"11113","m":0.26},{"p":"Inclusive","g":"g3","s":"23232","m":0.05},{"p":"Inclusive","g":"g3","s":"32223","m":-0.02},{"p":"Inclusive","g":"g3","s":"33333","m":-0.25},
{"p":"Inclusive","g":"g4","s":"11211","m":0.58},{"p":"Inclusive","g":"g4","s":"11312","m":0.36},{"p":"Inclusive","g":"g4","s":"22222","m":0.345},{"p":"Inclusive","g":"g4","s":"32211","m":0.26},{"p":"Inclusive","g":"g4","s":"11113","m":0.23},{"p":"Inclusive","g":"g4","s":"23232","m":0.04},{"p":"Inclusive","g":"g4","s":"32223","m":-0.035},{"p":"Inclusive","g":"g4","s":"33333","m":-0.27},
{"p":"Inclusive","g":"g5","s":"11211","m":0.57},{"p":"Inclusive","g":"g5","s":"11312","m":0.33},{"p":"Inclusive","g":"g5","s":"22222","m":0.32},{"p":"Inclusive","g":"g5","s":"32211","m":0.24},{"p":"Inclusive","g":"g5","s":"11113","m":0.20},{"p":"Inclusive","g":"g5","s":"23232","m":-0.02},{"p":"Inclusive","g":"g5","s":"32223","m":-0.05},{"p":"Inclusive","g":"g5","s":"33333","m":-0.29},
{"p":"Inclusive","g":"g6","s":"11211","m":0.56},{"p":"Inclusive","g":"g6","s":"11312","m":0.29},{"p":"Inclusive","g":"g6","s":"22222","m":0.28},{"p":"Inclusive","g":"g6","s":"32211","m":0.215},{"p":"Inclusive","g":"g6","s":"11113","m":0.15},{"p":"Inclusive","g":"g6","s":"23232","m":-0.03},{"p":"Inclusive","g":"g6","s":"32223","m":-0.06},{"p":"Inclusive","g":"g6","s":"33333","m":-0.30},
{"p":"Inclusive","g":"g7","s":"11211","m":0.48},{"p":"Inclusive","g":"g7","s":"11312","m":0.18},{"p":"Inclusive","g":"g7","s":"22222","m":0.18},{"p":"Inclusive","g":"g7","s":"32211","m":0.125},{"p":"Inclusive","g":"g7","s":"11113","m":0.065},{"p":"Inclusive","g":"g7","s":"23232","m":-0.146},{"p":"Inclusive","g":"g7","s":"32223","m":-0.154},{"p":"Inclusive","g":"g7","s":"33333","m":-0.36},
{"p":"Inclusive","g":"g8","s":"11211","m":0.43},{"p":"Inclusive","g":"g8","s":"11312","m":0.12},{"p":"Inclusive","g":"g8","s":"22222","m":0.12},{"p":"Inclusive","g":"g8","s":"32211","m":0.07},{"p":"Inclusive","g":"g8","s":"11113","m":0.045},{"p":"Inclusive","g":"g8","s":"23232","m":-0.186},{"p":"Inclusive","g":"g8","s":"32223","m":-0.227},{"p":"Inclusive","g":"g8","s":"33333","m":-0.41}
]},
"facet": {"column": {"field": "p", "type": "nominal", "sort": ["Strict", "Inclusive"], "title": "EQ-5D health states ordered best to worst by grand mean TTO values",
  "header": {"labelOrient": "top", "titleOrient": "bottom", "labelFontSize": 15, "labelFontWeight": "bold", "labelFont": "Liberation Sans", "labelColor": "#000", "labelPadding": 3, "titleFontSize": 13, "titleFontWeight": "bold", "titleFont": "Liberation Sans", "titleColor": "#000", "titlePadding": 3}}},
"spacing": 42,
"spec": {
  "width": 306, "height": 453,
  "layer": [
    {"transform": [{"filter": "isValid(datum.n)"}],
     "mark": {"type": "point", "filled": false, "strokeWidth": 1.4, "color": "#2e8bb3", "opacity": 0.9},
     "encoding": {
       "x": {"field": "s", "type": "nominal", "sort": ["11211","11312","22222","32211","11113","23232","32223","33333"], "scale": {"type": "point", "padding": 0.82},
          "axis": {"title": null, "labelAngle": 0, "labelFontSize": 10, "labelFont": "Liberation Sans", "labelColor": "#222", "tickColor": "#999", "tickSize": 3, "domain": false, "grid": true, "gridColor": "#e3e3e3", "gridDash": [1, 2], "labelPadding": 2}},
       "y": {"field": "v", "type": "quantitative", "scale": {"domain": [-1.09, 1.09], "nice": false, "zero": false},
             "axis": {"title": "TTO value", "values": [-1,-0.8,-0.6,-0.4,-0.2,0,0.2,0.4,0.6,0.8,1], "labelExpr": "'' + datum.value", "labelFontSize": 10, "labelFont": "Liberation Sans", "labelColor": "#222", "tickColor": "#999", "tickSize": 3, "labelPadding": 3, "domain": false, "grid": true, "gridColor": "#e3e3e3", "gridDash": [1, 2], "titleFontSize": 13, "titleFontWeight": "bold", "titleFont": "Liberation Sans", "titleColor": "#000", "titleX": -14, "titleBaseline": "bottom"}},
       "size": {"field": "n", "type": "quantitative", "scale": {"domain": [1, 110], "range": [9, 2116], "zero": false}, "legend": null}
     }},
    {"transform": [{"filter": "isValid(datum.n)"}, {"aggregate": [{"op": "count", "as": "c"}], "groupby": ["p"]}],
     "mark": {"type": "rule", "color": "#808080", "strokeWidth": 1},
     "encoding": {"y": {"datum": 0}}},
    {"transform": [{"filter": "isValid(datum.m)"}],
     "mark": {"type": "line", "strokeWidth": 2.6, "opacity": 0.85},
     "encoding": {
       "x": {"field": "s", "type": "nominal", "sort": ["11211","11312","22222","32211","11113","23232","32223","33333"]},
       "y": {"field": "m", "type": "quantitative"},
       "color": {"field": "g", "type": "nominal", "scale": {"domain": ["g1","g2","g3","g4","g5","g6","g7","g8"], "range": ["#ffeda0","#fed976","#feb24c","#fd8d3c","#fc4e2a","#e31a1c","#bd0026","#800026"]}, "legend": null},
       "order": {"value": null}
     }}
  ]
},
"config": {"view": {"stroke": "#cccccc"}, "font": "Liberation Sans"}
}
